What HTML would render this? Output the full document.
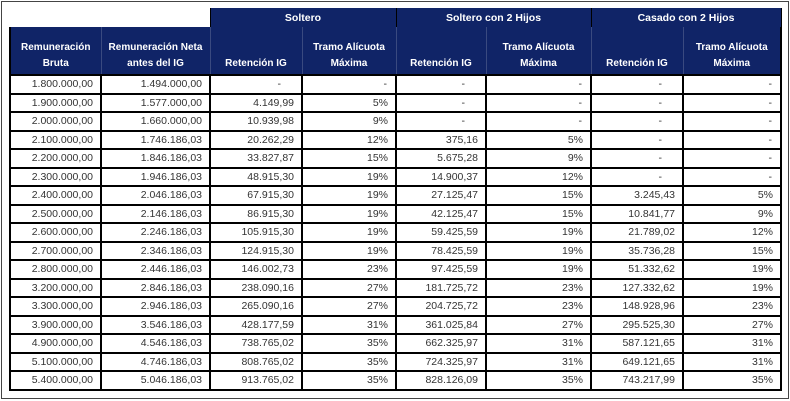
<!DOCTYPE html>
<html><head><meta charset="utf-8"><style>
body{margin:0;width:790px;height:401px;background:#fff;position:relative;overflow:hidden;font-family:"Liberation Sans",Arial,sans-serif}
.frame{position:absolute;left:1px;top:1px;width:786px;height:396px;border:1px solid #444}
table{position:absolute;left:9px;top:8px;border-collapse:collapse;table-layout:fixed;font-size:10.5px}
td{padding:0;box-sizing:border-box;white-space:nowrap}
.h1 td.n{background:#102467;color:#fff;font-weight:bold;text-align:center;height:19px;border-left:1px solid #000;border-right:1px solid #000}
.h2 td{background:#102467;color:#fff;font-weight:bold;text-align:center;vertical-align:bottom;height:48px;line-height:16px;padding-bottom:2px;border-left:1px solid #3a4a80;border-bottom:2px solid #000;font-size:10px}
.h2 td:first-child{border-left:2px solid #000}
.h2 td:last-child{border-right:2px solid #000}
.d td{height:18.5px;border:2px solid #000;text-align:right;padding-right:7px;color:#333}
.d td.z{padding-right:20px}
.d td.zp{padding-right:8px}
</style></head><body>
<div class="frame"></div>
<table>
<colgroup><col style="width:91px"><col style="width:109px"><col style="width:92px"><col style="width:94px"><col style="width:90px"><col style="width:105px"><col style="width:92px"><col style="width:98px"></colgroup>
<tr class="h1"><td></td><td></td><td class="n" colspan="2">Soltero</td><td class="n" colspan="2">Soltero con 2 Hijos</td><td class="n" colspan="2">Casado con 2 Hijos</td></tr>
<tr class="h2"><td>Remuneración<br>Bruta</td><td>Remuneración Neta<br>antes del IG</td><td>Retención IG</td><td>Tramo Alícuota<br>Máxima</td><td>Retención IG</td><td>Tramo Alícuota<br>Máxima</td><td>Retención IG</td><td>Tramo Alícuota<br>Máxima</td></tr>
<tr class="d"><td>1.800.000,00</td><td>1.494.000,00</td><td class="z">-</td><td class="zp">-</td><td class="z">-</td><td class="zp">-</td><td class="z">-</td><td class="zp">-</td></tr>
<tr class="d"><td>1.900.000,00</td><td>1.577.000,00</td><td>4.149,99</td><td>5%</td><td class="z">-</td><td class="zp">-</td><td class="z">-</td><td class="zp">-</td></tr>
<tr class="d"><td>2.000.000,00</td><td>1.660.000,00</td><td>10.939,98</td><td>9%</td><td class="z">-</td><td class="zp">-</td><td class="z">-</td><td class="zp">-</td></tr>
<tr class="d"><td>2.100.000,00</td><td>1.746.186,03</td><td>20.262,29</td><td>12%</td><td>375,16</td><td>5%</td><td class="z">-</td><td class="zp">-</td></tr>
<tr class="d"><td>2.200.000,00</td><td>1.846.186,03</td><td>33.827,87</td><td>15%</td><td>5.675,28</td><td>9%</td><td class="z">-</td><td class="zp">-</td></tr>
<tr class="d"><td>2.300.000,00</td><td>1.946.186,03</td><td>48.915,30</td><td>19%</td><td>14.900,37</td><td>12%</td><td class="z">-</td><td class="zp">-</td></tr>
<tr class="d"><td>2.400.000,00</td><td>2.046.186,03</td><td>67.915,30</td><td>19%</td><td>27.125,47</td><td>15%</td><td>3.245,43</td><td>5%</td></tr>
<tr class="d"><td>2.500.000,00</td><td>2.146.186,03</td><td>86.915,30</td><td>19%</td><td>42.125,47</td><td>15%</td><td>10.841,77</td><td>9%</td></tr>
<tr class="d"><td>2.600.000,00</td><td>2.246.186,03</td><td>105.915,30</td><td>19%</td><td>59.425,59</td><td>19%</td><td>21.789,02</td><td>12%</td></tr>
<tr class="d"><td>2.700.000,00</td><td>2.346.186,03</td><td>124.915,30</td><td>19%</td><td>78.425,59</td><td>19%</td><td>35.736,28</td><td>15%</td></tr>
<tr class="d"><td>2.800.000,00</td><td>2.446.186,03</td><td>146.002,73</td><td>23%</td><td>97.425,59</td><td>19%</td><td>51.332,62</td><td>19%</td></tr>
<tr class="d"><td>3.200.000,00</td><td>2.846.186,03</td><td>238.090,16</td><td>27%</td><td>181.725,72</td><td>23%</td><td>127.332,62</td><td>19%</td></tr>
<tr class="d"><td>3.300.000,00</td><td>2.946.186,03</td><td>265.090,16</td><td>27%</td><td>204.725,72</td><td>23%</td><td>148.928,96</td><td>23%</td></tr>
<tr class="d"><td>3.900.000,00</td><td>3.546.186,03</td><td>428.177,59</td><td>31%</td><td>361.025,84</td><td>27%</td><td>295.525,30</td><td>27%</td></tr>
<tr class="d"><td>4.900.000,00</td><td>4.546.186,03</td><td>738.765,02</td><td>35%</td><td>662.325,97</td><td>31%</td><td>587.121,65</td><td>31%</td></tr>
<tr class="d"><td>5.100.000,00</td><td>4.746.186,03</td><td>808.765,02</td><td>35%</td><td>724.325,97</td><td>31%</td><td>649.121,65</td><td>31%</td></tr>
<tr class="d"><td>5.400.000,00</td><td>5.046.186,03</td><td>913.765,02</td><td>35%</td><td>828.126,09</td><td>35%</td><td>743.217,99</td><td>35%</td></tr>
</table>
</body></html>
